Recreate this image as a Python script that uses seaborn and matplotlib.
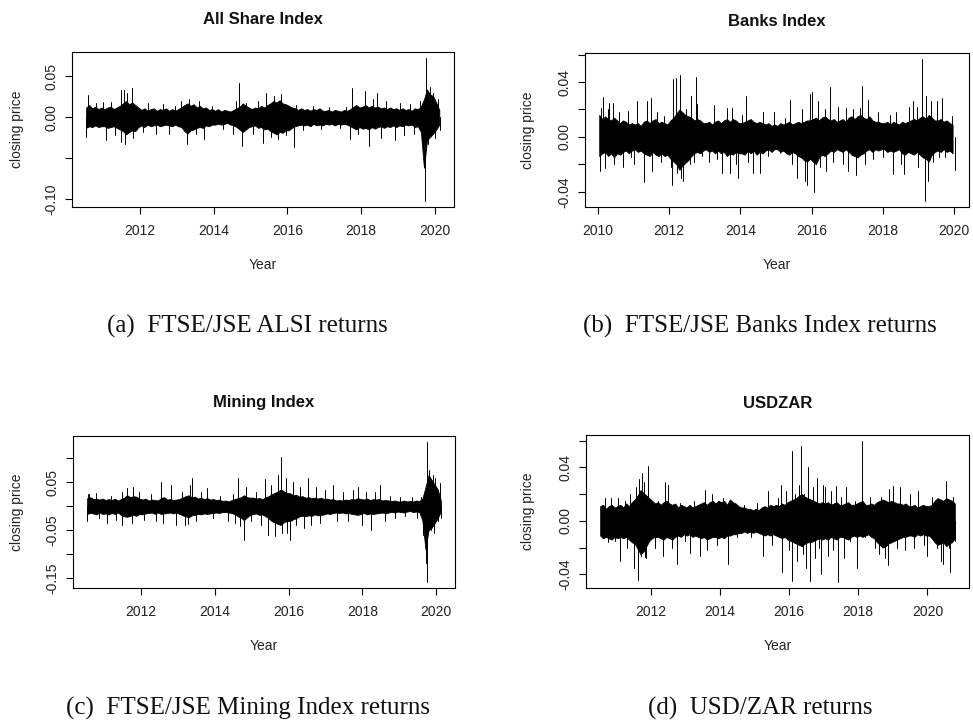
import matplotlib
matplotlib.use("Agg")
import matplotlib.pyplot as plt
import pandas as pd
import seaborn as sns

sns.set_theme(style="ticks")
plt.rcParams["font.family"] = ["Liberation Sans", "DejaVu Sans"]

W, H, DPI = 973, 723, 100

# ---------------------------------------------------------------------------
# Daily log-returns, summarised as a monthly envelope of the bulk of the
# observations (hi / lo, one value per calendar month starting at the given
# month) plus the individual large daily moves (year, return).
# ---------------------------------------------------------------------------
alsi_start = "2010-07"
alsi_hi = [
    0.012, 0.015, 0.011, 0.013, 0.010, 0.012,
    0.010, 0.012, 0.013, 0.010, 0.012, 0.014, 0.017, 0.020, 0.016, 0.018, 0.015, 0.012,
    0.009, 0.011, 0.008, 0.010, 0.011, 0.008, 0.010, 0.009, 0.011, 0.008, 0.010, 0.008,
    0.010, 0.012, 0.015, 0.017, 0.014, 0.016, 0.012, 0.014, 0.011, 0.012, 0.009, 0.010,
    0.008, 0.010, 0.007, 0.009, 0.008, 0.007, 0.009, 0.011, 0.013, 0.017, 0.014, 0.012,
    0.010, 0.012, 0.011, 0.014, 0.012, 0.015, 0.017, 0.020, 0.018, 0.021, 0.017, 0.016,
    0.014, 0.012, 0.011, 0.009, 0.011, 0.009, 0.010, 0.008, 0.010, 0.009, 0.011, 0.008,
    0.008, 0.009, 0.007, 0.009, 0.008, 0.007, 0.009, 0.008, 0.010, 0.013, 0.015, 0.012,
    0.013, 0.015, 0.012, 0.014, 0.012, 0.013, 0.011, 0.012, 0.010, 0.012, 0.010, 0.011,
    0.009, 0.011, 0.009, 0.010, 0.008, 0.011, 0.010, 0.013, 0.022, 0.034, 0.028, 0.026,
    0.018, 0.009,
]
alsi_lo = [
    -0.013, -0.011, -0.012, -0.010, -0.012, -0.011,
    -0.011, -0.013, -0.012, -0.011, -0.013, -0.015, -0.017, -0.021, -0.018, -0.016, -0.017, -0.012,
    -0.010, -0.012, -0.009, -0.011, -0.010, -0.009, -0.011, -0.010, -0.009, -0.010, -0.011, -0.009,
    -0.011, -0.012, -0.017, -0.020, -0.016, -0.015, -0.013, -0.012, -0.013, -0.010, -0.011, -0.009,
    -0.009, -0.008, -0.009, -0.008, -0.007, -0.009, -0.010, -0.012, -0.015, -0.018, -0.015, -0.012,
    -0.011, -0.010, -0.013, -0.012, -0.015, -0.014, -0.017, -0.019, -0.021, -0.018, -0.019, -0.016,
    -0.016, -0.013, -0.011, -0.010, -0.009, -0.010, -0.009, -0.011, -0.008, -0.010, -0.009, -0.010,
    -0.008, -0.009, -0.008, -0.010, -0.008, -0.009, -0.008, -0.009, -0.011, -0.013, -0.015, -0.012,
    -0.014, -0.013, -0.015, -0.012, -0.014, -0.012, -0.011, -0.013, -0.011, -0.012, -0.010, -0.012,
    -0.010, -0.011, -0.009, -0.010, -0.009, -0.012, -0.011, -0.018, -0.062, -0.028, -0.024, -0.020,
    -0.015, -0.009,
]
alsi_spikes = [
    (2010.55, -0.024), (2010.58, 0.027), (2010.80, 0.017), (2010.99, 0.019),
    (2011.09, -0.028), (2011.21, 0.019), (2011.33, -0.022), (2011.48, 0.033),
    (2011.50, -0.030), (2011.57, 0.034), (2011.60, -0.033), (2011.65, 0.030),
    (2011.78, 0.036), (2011.82, -0.025), (2012.09, -0.018), (2012.21, 0.017),
    (2012.43, -0.020), (2012.62, 0.016), (2012.80, -0.020), (2012.96, 0.014),
    (2013.11, 0.020), (2013.27, -0.033), (2013.32, 0.022), (2013.52, -0.020),
    (2013.61, 0.020), (2013.74, -0.027), (2013.97, 0.014), (2014.25, -0.014),
    (2014.52, -0.020), (2014.61, 0.020), (2014.70, 0.042), (2014.76, -0.035),
    (2014.88, 0.018), (2015.06, -0.020), (2015.20, 0.020), (2015.33, -0.032),
    (2015.41, 0.030), (2015.56, -0.024), (2015.65, 0.026), (2015.74, -0.027),
    (2015.83, 0.028), (2015.97, -0.022), (2016.17, -0.037), (2016.24, 0.015),
    (2016.42, -0.015), (2016.69, 0.014), (2016.92, -0.014), (2017.14, 0.012),
    (2017.42, -0.013), (2017.60, 0.012), (2017.69, -0.027), (2017.75, 0.036),
    (2017.91, -0.020), (2018.11, 0.032), (2018.21, -0.035), (2018.32, 0.022),
    (2018.44, 0.030), (2018.55, -0.025), (2018.68, 0.020), (2018.93, -0.028),
    (2019.05, 0.018), (2019.16, -0.022), (2019.32, 0.016), (2019.45, -0.020),
    (2019.59, 0.020), (2019.73, -0.103), (2019.77, 0.073), (2019.82, -0.033),
    (2019.86, 0.037), (2019.95, 0.030), (2020.00, -0.026), (2020.09, 0.023),
    (2020.14, -0.016),
]

banks_start = "2010-01"
banks_hi = [
    0.016, 0.013, 0.015, 0.013, 0.012, 0.014, 0.012, 0.010, 0.012, 0.011, 0.009, 0.010,
    0.009, 0.010, 0.008, 0.011, 0.012, 0.010, 0.012, 0.013, 0.010, 0.011, 0.010, 0.009,
    0.012, 0.014, 0.017, 0.020, 0.018, 0.016, 0.015, 0.014, 0.012, 0.013, 0.012, 0.010,
    0.010, 0.011, 0.009, 0.011, 0.012, 0.010, 0.012, 0.013, 0.011, 0.013, 0.012, 0.010,
    0.010, 0.011, 0.012, 0.013, 0.011, 0.010, 0.011, 0.010, 0.009, 0.010, 0.008, 0.009,
    0.008, 0.010, 0.009, 0.010, 0.011, 0.009, 0.010, 0.011, 0.010, 0.011, 0.012, 0.012,
    0.013, 0.014, 0.012, 0.014, 0.015, 0.013, 0.012, 0.013, 0.011, 0.012, 0.013, 0.011,
    0.014, 0.015, 0.013, 0.015, 0.016, 0.014, 0.013, 0.015, 0.012, 0.011, 0.011, 0.010,
    0.010, 0.011, 0.009, 0.011, 0.010, 0.009, 0.011, 0.010, 0.011, 0.012, 0.013, 0.012,
    0.014, 0.015, 0.013, 0.016, 0.014, 0.012, 0.012, 0.013, 0.011, 0.012, 0.010, 0.009,
]
banks_lo = [
    -0.014, -0.012, -0.011, -0.014, -0.012, -0.015, -0.012, -0.013, -0.011, -0.010, -0.012, -0.010,
    -0.009, -0.011, -0.010, -0.012, -0.013, -0.014, -0.011, -0.013, -0.014, -0.012, -0.014, -0.013,
    -0.016, -0.018, -0.020, -0.024, -0.021, -0.019, -0.017, -0.014, -0.012, -0.011, -0.012, -0.010,
    -0.009, -0.011, -0.010, -0.012, -0.010, -0.012, -0.011, -0.014, -0.012, -0.013, -0.011, -0.012,
    -0.012, -0.013, -0.010, -0.012, -0.010, -0.013, -0.011, -0.012, -0.010, -0.009, -0.011, -0.009,
    -0.009, -0.011, -0.010, -0.012, -0.013, -0.011, -0.012, -0.014, -0.015, -0.017, -0.018, -0.016,
    -0.018, -0.020, -0.015, -0.013, -0.014, -0.012, -0.010, -0.011, -0.009, -0.010, -0.011, -0.009,
    -0.011, -0.013, -0.014, -0.015, -0.013, -0.012, -0.010, -0.009, -0.011, -0.009, -0.010, -0.009,
    -0.009, -0.011, -0.010, -0.011, -0.010, -0.009, -0.012, -0.013, -0.011, -0.012, -0.013, -0.011,
    -0.013, -0.015, -0.016, -0.018, -0.013, -0.011, -0.010, -0.011, -0.009, -0.011, -0.010, -0.012,
]
banks_spikes = [
    (2010.07, -0.025), (2010.09, 0.021), (2010.16, 0.029), (2010.20, -0.023),
    (2010.30, 0.020), (2010.33, 0.025), (2010.42, 0.025), (2010.47, -0.020),
    (2010.60, 0.018), (2010.70, -0.022), (2010.84, 0.019), (2010.93, -0.015),
    (2011.02, -0.020), (2011.10, 0.026), (2011.30, -0.033), (2011.38, 0.026),
    (2011.49, 0.028), (2011.52, -0.025), (2011.67, 0.018), (2011.77, -0.018),
    (2011.86, 0.015), (2012.05, -0.022), (2012.09, -0.035), (2012.12, 0.042),
    (2012.20, 0.043), (2012.23, -0.026), (2012.30, 0.045), (2012.33, -0.030),
    (2012.40, -0.032), (2012.47, 0.020), (2012.60, -0.020), (2012.63, 0.030),
    (2012.70, -0.018), (2012.77, 0.044), (2012.79, 0.024), (2012.93, -0.014),
    (2013.12, -0.018), (2013.26, 0.023), (2013.35, -0.016), (2013.49, -0.026),
    (2013.63, 0.021), (2013.70, -0.026), (2013.77, 0.021), (2013.89, -0.020),
    (2013.95, -0.030), (2014.05, 0.016), (2014.15, 0.030), (2014.23, -0.018),
    (2014.37, -0.026), (2014.54, -0.026), (2014.65, 0.018), (2014.79, -0.014),
    (2014.96, 0.018), (2015.12, -0.012), (2015.26, 0.014), (2015.40, 0.027),
    (2015.44, -0.020), (2015.60, -0.030), (2015.72, 0.020), (2015.81, -0.032),
    (2015.88, -0.035), (2015.97, 0.031), (2016.02, 0.033), (2016.07, -0.040),
    (2016.19, 0.026), (2016.23, -0.022), (2016.37, 0.020), (2016.42, -0.025),
    (2016.53, 0.036), (2016.60, -0.018), (2016.74, 0.022), (2016.88, -0.020),
    (2016.98, 0.021), (2017.02, -0.025), (2017.16, 0.020), (2017.26, -0.028),
    (2017.35, 0.021), (2017.42, 0.037), (2017.49, -0.020), (2017.58, 0.027),
    (2017.72, -0.016), (2017.86, 0.018), (2018.00, -0.015), (2018.19, 0.016),
    (2018.28, -0.027), (2018.37, 0.018), (2018.51, -0.020), (2018.60, -0.027),
    (2018.73, 0.022), (2018.84, 0.026), (2018.95, 0.022), (2018.98, -0.022),
    (2019.10, 0.057), (2019.12, -0.015), (2019.18, -0.047), (2019.21, 0.030),
    (2019.26, -0.032), (2019.35, 0.026), (2019.40, -0.018), (2019.53, 0.026),
    (2019.58, -0.015), (2019.65, 0.028), (2019.75, -0.015), (2019.93, 0.015),
    (2020.02, -0.024),
]

mining_start = "2010-07"
mining_hi = [
    0.017, 0.019, 0.015, 0.016, 0.014, 0.016,
    0.013, 0.015, 0.013, 0.016, 0.012, 0.015, 0.018, 0.023, 0.019, 0.021, 0.020, 0.016,
    0.014, 0.016, 0.012, 0.014, 0.013, 0.012, 0.017, 0.019, 0.014, 0.015, 0.013, 0.014,
    0.015, 0.018, 0.021, 0.023, 0.019, 0.020, 0.016, 0.018, 0.015, 0.017, 0.014, 0.015,
    0.013, 0.014, 0.011, 0.012, 0.010, 0.013, 0.015, 0.017, 0.019, 0.023, 0.019, 0.018,
    0.018, 0.016, 0.017, 0.015, 0.019, 0.021, 0.025, 0.028, 0.031, 0.035, 0.031, 0.028,
    0.027, 0.023, 0.024, 0.020, 0.021, 0.018, 0.019, 0.017, 0.018, 0.016, 0.018, 0.015,
    0.016, 0.014, 0.015, 0.012, 0.013, 0.012, 0.014, 0.013, 0.015, 0.014, 0.017, 0.015,
    0.014, 0.016, 0.013, 0.015, 0.014, 0.015, 0.012, 0.013, 0.012, 0.011, 0.012, 0.010,
    0.010, 0.012, 0.010, 0.011, 0.010, 0.012, 0.011, 0.016, 0.040, 0.065, 0.055, 0.045,
    0.035, 0.012,
]
mining_lo = [
    -0.016, -0.014, -0.015, -0.017, -0.013, -0.016,
    -0.015, -0.017, -0.014, -0.016, -0.013, -0.018, -0.021, -0.022, -0.020, -0.018, -0.020, -0.016,
    -0.017, -0.015, -0.014, -0.013, -0.016, -0.013, -0.016, -0.015, -0.014, -0.013, -0.015, -0.013,
    -0.016, -0.019, -0.021, -0.023, -0.019, -0.018, -0.016, -0.017, -0.015, -0.016, -0.015, -0.014,
    -0.013, -0.014, -0.012, -0.012, -0.013, -0.014, -0.017, -0.021, -0.024, -0.029, -0.023, -0.018,
    -0.016, -0.015, -0.018, -0.017, -0.021, -0.025, -0.031, -0.034, -0.037, -0.039, -0.033, -0.031,
    -0.031, -0.027, -0.025, -0.021, -0.020, -0.021, -0.019, -0.020, -0.017, -0.019, -0.018, -0.017,
    -0.015, -0.016, -0.014, -0.013, -0.014, -0.013, -0.015, -0.014, -0.016, -0.017, -0.018, -0.016,
    -0.014, -0.017, -0.015, -0.016, -0.015, -0.014, -0.013, -0.015, -0.013, -0.012, -0.013, -0.011,
    -0.012, -0.013, -0.011, -0.010, -0.012, -0.011, -0.012, -0.030, -0.090, -0.050, -0.045, -0.035,
    -0.025, -0.010,
]
mining_spikes = [
    (2010.55, -0.030), (2010.56, 0.025), (2010.60, 0.025), (2010.78, 0.027),
    (2010.87, -0.025), (2011.07, -0.035), (2011.18, 0.022), (2011.32, -0.028),
    (2011.48, -0.040), (2011.49, 0.030), (2011.61, 0.038), (2011.76, -0.035),
    (2011.79, 0.040), (2011.95, 0.030), (2012.09, -0.028), (2012.27, 0.026),
    (2012.41, -0.030), (2012.54, 0.050), (2012.59, -0.035), (2012.82, 0.045),
    (2012.95, -0.040), (2013.11, 0.030), (2013.18, -0.040), (2013.27, -0.038),
    (2013.33, 0.045), (2013.39, 0.058), (2013.49, -0.030), (2013.63, 0.030),
    (2013.78, 0.038), (2013.95, -0.025), (2014.13, 0.022), (2014.36, -0.030),
    (2014.49, 0.025), (2014.54, -0.035), (2014.63, 0.060), (2014.67, -0.042),
    (2014.78, -0.070), (2014.85, 0.040), (2014.99, -0.030), (2015.13, 0.030),
    (2015.26, -0.040), (2015.35, 0.057), (2015.44, -0.060), (2015.53, 0.045),
    (2015.62, -0.062), (2015.70, 0.065), (2015.79, 0.103), (2015.83, -0.055),
    (2015.92, 0.060), (2015.97, -0.055), (2016.05, -0.070), (2016.12, 0.050),
    (2016.21, -0.040), (2016.30, 0.040), (2016.41, -0.045), (2016.53, 0.060),
    (2016.62, -0.040), (2016.74, 0.040), (2016.86, -0.035), (2016.98, 0.035),
    (2017.21, 0.045), (2017.30, -0.030), (2017.48, 0.030), (2017.62, -0.030),
    (2017.75, 0.035), (2017.89, 0.040), (2017.98, -0.040), (2018.11, 0.030),
    (2018.22, -0.050), (2018.34, 0.030), (2018.48, 0.045), (2018.61, -0.030),
    (2018.75, 0.022), (2018.88, -0.025), (2019.02, 0.020), (2019.16, -0.020),
    (2019.34, 0.020), (2019.47, -0.025), (2019.58, 0.020), (2019.65, -0.060),
    (2019.71, -0.118), (2019.74, -0.159), (2019.76, 0.135), (2019.81, 0.075),
    (2019.85, -0.050), (2019.90, 0.065), (2019.93, -0.055), (2019.97, 0.060),
    (2020.04, -0.030), (2020.11, 0.048), (2020.12, -0.025),
]

zar_start = "2010-07"
zar_hi = [
    0.011, 0.012, 0.009, 0.011, 0.012, 0.010,
    0.011, 0.012, 0.010, 0.013, 0.011, 0.014, 0.016, 0.019, 0.023, 0.021, 0.019, 0.017,
    0.015, 0.013, 0.014, 0.012, 0.014, 0.015, 0.013, 0.012, 0.013, 0.010, 0.012, 0.011,
    0.010, 0.012, 0.010, 0.011, 0.012, 0.013, 0.014, 0.012, 0.014, 0.015, 0.013, 0.015,
    0.014, 0.015, 0.012, 0.016, 0.014, 0.013, 0.011, 0.010, 0.010, 0.009, 0.009, 0.008,
    0.009, 0.008, 0.010, 0.011, 0.010, 0.012, 0.011, 0.012, 0.011, 0.013, 0.012, 0.014,
    0.015, 0.016, 0.017, 0.019, 0.020, 0.018, 0.017, 0.016, 0.015, 0.014, 0.013, 0.014,
    0.013, 0.014, 0.012, 0.013, 0.014, 0.012, 0.012, 0.013, 0.014, 0.012, 0.012, 0.013,
    0.014, 0.015, 0.012, 0.012, 0.013, 0.012, 0.014, 0.015, 0.016, 0.015, 0.014, 0.015,
    0.014, 0.013, 0.013, 0.012, 0.013, 0.011, 0.011, 0.012, 0.010, 0.011, 0.012, 0.011,
    0.011, 0.012, 0.015, 0.017, 0.016, 0.015, 0.017, 0.016, 0.015, 0.013,
]
zar_lo = [
    -0.011, -0.013, -0.012, -0.013, -0.014, -0.012,
    -0.013, -0.012, -0.013, -0.012, -0.014, -0.016, -0.017, -0.021, -0.025, -0.023, -0.019, -0.015,
    -0.013, -0.012, -0.012, -0.013, -0.014, -0.012, -0.013, -0.014, -0.012, -0.011, -0.012, -0.010,
    -0.011, -0.010, -0.012, -0.011, -0.012, -0.013, -0.012, -0.014, -0.013, -0.012, -0.012, -0.013,
    -0.012, -0.013, -0.011, -0.011, -0.010, -0.010, -0.009, -0.009, -0.008, -0.009, -0.008, -0.009,
    -0.008, -0.009, -0.010, -0.011, -0.010, -0.011, -0.010, -0.011, -0.012, -0.013, -0.012, -0.014,
    -0.015, -0.016, -0.017, -0.018, -0.019, -0.017, -0.016, -0.016, -0.015, -0.014, -0.013, -0.014,
    -0.013, -0.014, -0.012, -0.013, -0.014, -0.012, -0.012, -0.013, -0.014, -0.012, -0.011, -0.012,
    -0.011, -0.012, -0.011, -0.010, -0.012, -0.013, -0.016, -0.018, -0.020, -0.019, -0.017, -0.016,
    -0.015, -0.014, -0.013, -0.012, -0.012, -0.011, -0.011, -0.012, -0.010, -0.011, -0.010, -0.011,
    -0.011, -0.013, -0.016, -0.018, -0.017, -0.016, -0.019, -0.017, -0.016, -0.013,
]
zar_spikes = [
    (2010.67, 0.017), (2010.77, -0.016), (2010.84, 0.017), (2010.96, -0.015),
    (2011.06, 0.017), (2011.11, -0.030), (2011.25, 0.015), (2011.32, -0.020),
    (2011.40, 0.020), (2011.52, -0.035), (2011.59, 0.025), (2011.64, -0.044),
    (2011.65, 0.031), (2011.71, -0.026), (2011.74, 0.036), (2011.81, 0.029),
    (2011.84, -0.027), (2011.88, -0.028), (2011.91, 0.041), (2011.98, 0.015),
    (2012.13, -0.020), (2012.22, 0.015), (2012.35, -0.026), (2012.42, 0.029),
    (2012.51, 0.027), (2012.61, -0.020), (2012.75, -0.032), (2012.85, 0.013),
    (2013.00, -0.015), (2013.14, -0.024), (2013.24, 0.015), (2013.42, -0.026),
    (2013.56, 0.023), (2013.63, -0.022), (2013.77, 0.020), (2013.92, -0.018),
    (2014.09, 0.017), (2014.24, -0.032), (2014.31, 0.015), (2014.50, -0.012),
    (2014.70, 0.012), (2014.89, -0.012), (2015.08, 0.013), (2015.26, -0.026),
    (2015.38, 0.022), (2015.52, -0.018), (2015.67, 0.017), (2015.78, 0.027),
    (2015.79, -0.038), (2015.91, 0.022), (2016.01, -0.022), (2016.08, 0.052),
    (2016.09, -0.045), (2016.17, 0.020), (2016.23, -0.030), (2016.30, 0.027),
    (2016.35, 0.056), (2016.39, -0.025), (2016.44, 0.020), (2016.49, -0.035),
    (2016.56, 0.040), (2016.61, -0.045), (2016.68, 0.025), (2016.75, -0.028),
    (2016.81, 0.032), (2016.88, -0.020), (2016.93, -0.040), (2016.98, 0.027),
    (2017.05, 0.025), (2017.12, -0.026), (2017.20, 0.022), (2017.27, -0.022),
    (2017.36, 0.026), (2017.41, -0.046), (2017.51, 0.018), (2017.59, -0.028),
    (2017.65, 0.025), (2017.75, -0.015), (2017.90, 0.015), (2017.97, -0.035),
    (2018.12, 0.060), (2018.19, -0.012), (2018.33, 0.018), (2018.48, -0.020),
    (2018.61, -0.025), (2018.67, 0.018), (2018.77, -0.028), (2018.85, -0.033),
    (2018.89, 0.024), (2019.01, 0.026), (2019.11, -0.020), (2019.21, 0.025),
    (2019.35, -0.022), (2019.50, 0.020), (2019.62, -0.020), (2019.74, 0.022),
    (2019.89, -0.018), (2020.00, -0.026), (2020.13, 0.018), (2020.27, -0.020),
    (2020.40, -0.030), (2020.45, -0.032), (2020.54, 0.030), (2020.61, -0.020),
    (2020.66, -0.038), (2020.73, 0.018), (2020.79, -0.015),
]

fig = plt.figure(figsize=(W / DPI, H / DPI), dpi=DPI)


def fx(px):
    return px / W


def fy(py):
    return 1 - py / H


def month_years(start, n):
    """Decimal-year position of the middle of each month."""
    months = pd.period_range(start, periods=n, freq="M")
    return [p.year + (p.month - 0.5) / 12 for p in months]


def spike_frame(spikes):
    rows = []
    for i, (yr, val) in enumerate(spikes):
        rows.append({"year": yr, "ret": 0.0, "day": i})
        rows.append({"year": yr, "ret": val, "day": i})
    return pd.DataFrame(rows)


def draw_panel(box, title, start, hi, lo, spikes, yticks, ylabels, xticks,
               title_y, ylabel_x):
    left, top, right, bottom = box
    ax = fig.add_axes([fx(left), fy(bottom), (right - left) / W, (bottom - top) / H])
    years = month_years(start, len(hi))

    # bulk of the daily returns
    ax.fill_between(years, lo, hi, color="black", linewidth=0.6)
    # individual large daily moves
    sns.lineplot(data=spike_frame(spikes), x="year", y="ret", units="day",
                 estimator=None, color="black", linewidth=0.7, ax=ax)

    # R-style axis extents: data range padded by 4% on each side
    xs = list(years) + [s[0] for s in spikes]
    ys = list(hi) + list(lo) + [s[1] for s in spikes]
    x0, x1 = min(xs), max(xs)
    y0, y1 = min(ys), max(ys)
    ax.set_xlim(x0 - 0.04 * (x1 - x0), x1 + 0.04 * (x1 - x0))
    ax.set_ylim(y0 - 0.04 * (y1 - y0), y1 + 0.04 * (y1 - y0))

    ax.set_xticks(xticks)
    ax.set_xticklabels([str(t) for t in xticks])
    ax.set_yticks(yticks)
    ax.set_yticklabels(ylabels)
    ax.set(xlabel="", ylabel="")

    ax.tick_params(axis="both", direction="out", length=5, width=0.8,
                   color="black", labelsize=10, labelcolor="#222222")
    ax.tick_params(axis="x", pad=7)
    ax.tick_params(axis="y", pad=5, labelrotation=90)
    for lbl in ax.get_yticklabels():
        lbl.set_va("center")
    for sp in ax.spines.values():
        sp.set_color("black")
        sp.set_linewidth(0.8)
        sp.set_visible(True)

    cx = (left + right) / 2
    fig.text(fx(cx), fy(title_y), title, ha="center", va="center",
             fontsize=12, fontweight="bold", color="#111111")
    fig.text(fx(cx), fy(bottom + 58), "Year", ha="center", va="center",
             fontsize=10, color="#222222")
    fig.text(fx(ylabel_x), fy((top + bottom) / 2), "closing price", ha="center",
             va="center", rotation=90, fontsize=10, color="#222222")
    return ax


draw_panel((72, 52, 454, 207), "All Share Index", alsi_start, alsi_hi, alsi_lo,
           alsi_spikes, [-0.10, -0.05, 0.0, 0.05], ["-0.10", "", "0.00", "0.05"],
           [2012, 2014, 2016, 2018, 2020], 19, 17)
draw_panel((585, 53, 969, 207), "Banks Index", banks_start, banks_hi, banks_lo,
           banks_spikes, [-0.04, -0.02, 0.0, 0.02, 0.04, 0.06],
           ["-0.04", "", "0.00", "", "0.04", ""],
           [2010, 2012, 2014, 2016, 2018, 2020], 21, 528)
draw_panel((73, 436, 455, 588), "Mining Index", mining_start, mining_hi, mining_lo,
           mining_spikes, [-0.15, -0.10, -0.05, 0.0, 0.05, 0.10],
           ["-0.15", "", "-0.05", "", "0.05", ""],
           [2012, 2014, 2016, 2018, 2020], 403, 17)
draw_panel((586, 435, 969, 588), "USDZAR", zar_start, zar_hi, zar_lo,
           zar_spikes, [-0.04, -0.02, 0.0, 0.02, 0.04, 0.06],
           ["-0.04", "", "0.00", "", "0.04", ""],
           [2012, 2014, 2016, 2018, 2020], 403, 528)

captions = ["(a)  FTSE/JSE ALSI returns", "(b)  FTSE/JSE Banks Index returns",
            "(c)  FTSE/JSE Mining Index returns", "(d)  USD/ZAR returns"]
caption_xy = [(247, 326), (760, 326), (248, 708), (760, 708)]
for text, (cx, cy) in zip(captions, caption_xy):
    fig.text(fx(cx), fy(cy), text, ha="center", va="center", fontsize=18,
             family=["Liberation Serif", "DejaVu Serif"], color="#111111")

fig.savefig("out.png", dpi=DPI, facecolor="white")
